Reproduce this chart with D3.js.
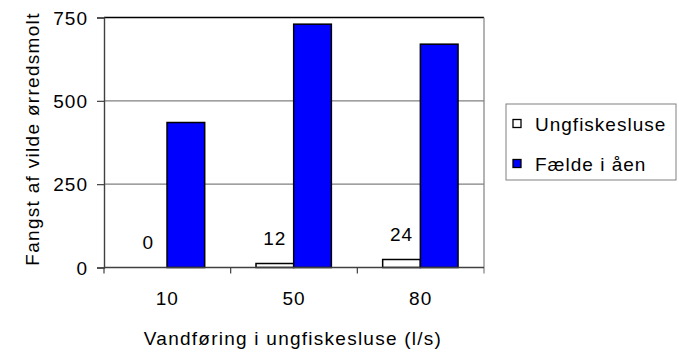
<!DOCTYPE html>
<html>
<head>
<meta charset="utf-8">
<script src="https://cdn.jsdelivr.net/npm/d3@7"></script>
<style>
  html, body { margin: 0; padding: 0; background: #fff; }
  svg text { font-family: "Liberation Sans", Arial, sans-serif; font-size: 19px; letter-spacing: 1px; fill: #000; }
</style>
</head>
<body>
<svg id="chart" width="679" height="356"></svg>
<script>
// Catch of wild sea-trout smolt by discharge through the juvenile fish pass
const categories = ["10", "50", "80"];
const seriesNames = ["Ungfiskesluse", "Fælde i åen"];
const ungfiskesluse = [0, 12, 24];
const faeldeIAaen = [435, 730, 670];
const yTicks = [0, 250, 500, 750];

const seriesColors = ["#ffffff", "#0000ff"];
const seriesValues = [ungfiskesluse, faeldeIAaen];

const svg = d3.select("#chart");
const plot = { left: 104, top: 17.5, right: 484, bottom: 267.5 };

const x = d3.scaleBand().domain(categories).range([plot.left, plot.right]).paddingInner(0).paddingOuter(0);
const xInner = d3.scaleBand().domain(seriesNames)
  .range([x.bandwidth() * 0.2, x.bandwidth() * 0.795]).padding(0);
const y = d3.scaleLinear().domain([0, 750]).range([plot.bottom, plot.top]);

// horizontal gridlines
svg.append("g").selectAll("line").data(yTicks.filter(t => t > 0 && t < 750)).join("line")
  .attr("x1", plot.left).attr("x2", plot.right)
  .attr("y1", d => y(d)).attr("y2", d => y(d))
  .attr("stroke", "#808080").attr("stroke-width", 1.2);

// top and right frame
svg.append("line").attr("x1", plot.left).attr("x2", plot.right)
  .attr("y1", y(750)).attr("y2", y(750)).attr("stroke", "#000").attr("stroke-width", 1.4);
svg.append("line").attr("x1", plot.right).attr("x2", plot.right)
  .attr("y1", y(750)).attr("y2", plot.bottom + 6).attr("stroke", "#808080").attr("stroke-width", 1.2);

// bars
const rows = [];
categories.forEach((c, i) => seriesNames.forEach((s, j) => rows.push({ c, s, j, v: seriesValues[j][i] })));
svg.append("g").selectAll("rect").data(rows.filter(r => r.v > 0)).join("rect")
  .attr("x", d => x(d.c) + xInner(d.s))
  .attr("width", xInner.bandwidth())
  .attr("y", d => y(d.v))
  .attr("height", d => y(0) - y(d.v))
  .attr("fill", d => seriesColors[d.j])
  .attr("stroke", "#000").attr("stroke-width", 1.5);

// data labels above the fish-pass bars
svg.append("g").selectAll("text").data(rows.filter(r => r.j === 0)).join("text")
  .attr("x", d => x(d.c) + xInner(d.s) + xInner.bandwidth() / 2)
  .attr("y", d => y(d.v) - 19)
  .attr("text-anchor", "middle")
  .text(d => d.v);

// y axis
const yAxis = svg.append("g").attr("transform", `translate(${plot.left},0)`)
  .call(d3.axisLeft(y).tickValues(yTicks).tickSize(7).tickPadding(9).tickFormat(d3.format("d")));
yAxis.select(".domain").attr("stroke", "#404040").attr("stroke-width", 1.4);
yAxis.selectAll(".tick line").attr("stroke", "#404040").attr("stroke-width", 1.2);
yAxis.selectAll("text").attr("font-size", null).attr("font-family", null).attr("dy", "0.35em");

// x axis with ticks at category boundaries
const xAxis = svg.append("g").attr("transform", `translate(0,${plot.bottom})`);
xAxis.append("line").attr("x1", plot.left).attr("x2", plot.right).attr("y1", 0).attr("y2", 0)
  .attr("stroke", "#404040").attr("stroke-width", 1.4);
const bounds = categories.map(c => x(c)).concat([plot.right]);
xAxis.selectAll("line.tk").data(bounds.slice(0, -1)).join("line").attr("class", "tk")
  .attr("x1", d => d).attr("x2", d => d).attr("y1", 0).attr("y2", 6)
  .attr("stroke", "#404040").attr("stroke-width", 1.2);
xAxis.selectAll("text").data(categories).join("text")
  .attr("x", d => x(d) + x.bandwidth() / 2).attr("y", 37.5)
  .attr("text-anchor", "middle").text(d => d);

// axis titles
svg.append("text").attr("x", 293).attr("y", 345)
  .attr("text-anchor", "middle").style("letter-spacing", "1.25px")
  .text("Vandføring i ungfiskesluse (l/s)");
svg.append("text").attr("transform", "translate(38.5,139) rotate(-90)")
  .attr("text-anchor", "middle").style("letter-spacing", "1.3px")
  .text("Fangst af vilde ørredsmolt");

// legend
const legend = svg.append("g").attr("transform", "translate(506,104)");
legend.append("rect").attr("x", 0).attr("y", 0).attr("width", 170).attr("height", 76)
  .attr("fill", "#fff").attr("stroke", "#808080").attr("stroke-width", 1);
seriesNames.forEach((s, j) => {
  legend.append("rect").attr("x", 7).attr("y", 15.5 + j * 40).attr("width", 8).attr("height", 8)
    .attr("fill", seriesColors[j]).attr("stroke", "#000").attr("stroke-width", 1.3);
  legend.append("text").attr("x", 29).attr("y", 26.5 + j * 40).text(s);
});
</script>
</body>
</html>
